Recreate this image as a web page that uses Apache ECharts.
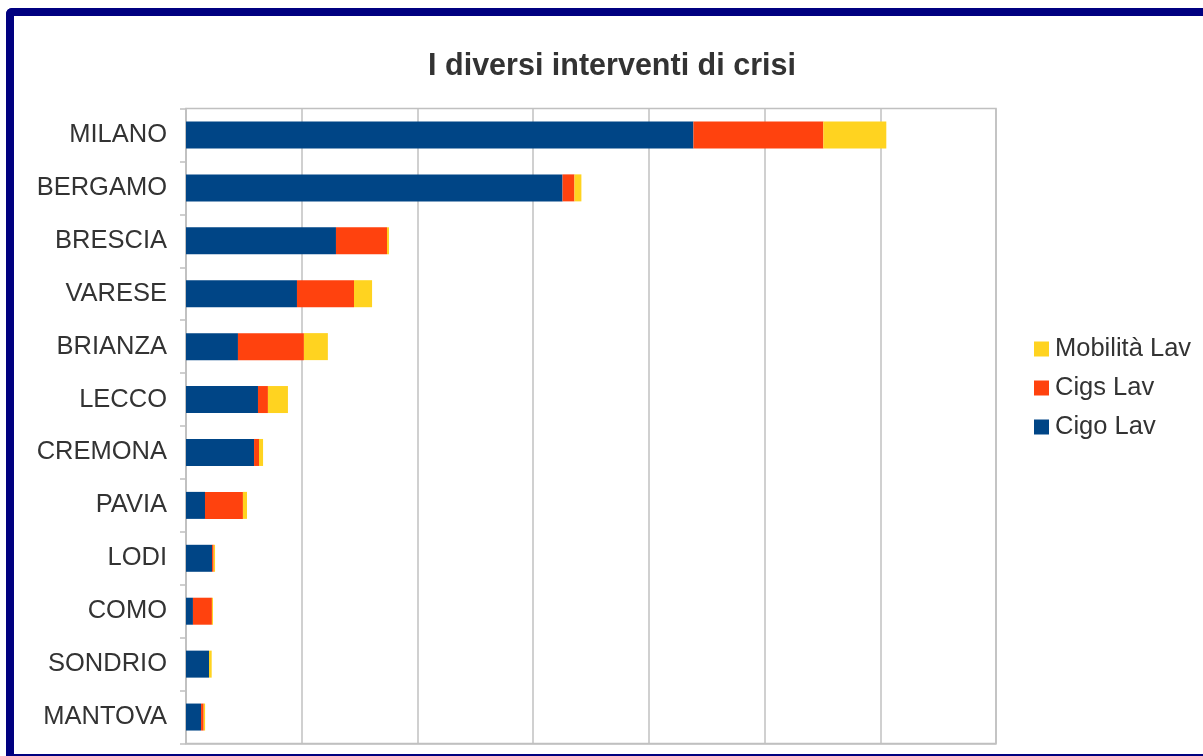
<!DOCTYPE html>
<html>
<head>
<meta charset="utf-8">
<script src="https://cdn.jsdelivr.net/npm/echarts@6/dist/echarts.min.js"></script>
<style>
  html, body { margin: 0; padding: 0; background: #ffffff; overflow: hidden; }
  #chart { position: absolute; left: 0; top: 0; width: 1203px; height: 756px; }
  #frame {
    position: absolute; left: 6px; top: 8px; width: 1240px; height: 748px;
    box-sizing: border-box; border-top: 8px solid #000080; border-left: 8px solid #000080;
    border-bottom: 2px solid #000080; border-top-left-radius: 6px; pointer-events: none;
  }
</style>
</head>
<body>
<div id="chart"></div>
<div id="frame"></div>
<script>
// Province (top to bottom) and worker counts per intervention type
const province = ['MILANO', 'BERGAMO', 'BRESCIA', 'VARESE', 'BRIANZA', 'LECCO',
                  'CREMONA', 'PAVIA', 'LODI', 'COMO', 'SONDRIO', 'MANTOVA'];
const cigoLav     = [21925, 16270, 6480, 4795, 2245, 3110, 2940, 820, 1125, 300, 995, 650];
const cigsLav     = [5615, 515, 2205, 2465, 2850, 430, 215, 1640, 70, 820, 0, 115];
const mobilitaLav = [2720, 300, 85, 780, 1035, 865, 175, 175, 60, 45, 115, 60];

const axisMax = 35000;
const axisStep = 5000;

const chart = echarts.init(document.getElementById('chart'), null, { renderer: 'canvas' });
const font = '"Liberation Sans", Arial, sans-serif';

function barSeries(name, data, color) {
  return {
    name: name, type: 'bar', stack: 'tot', data: data,
    barWidth: 27,
    itemStyle: { color: color },
    emphasis: { disabled: true }
  };
}

chart.setOption({
  animation: false,
  backgroundColor: 'transparent',
  graphic: [{
    type: 'text', x: 612, y: 67,
    style: {
      text: 'I diversi interventi di crisi',
      font: 'bold 30.5px ' + font, fill: '#333333',
      textAlign: 'center', textVerticalAlign: 'middle'
    }
  }],
  legend: {
    orient: 'vertical', left: 1029, top: 331,
    icon: 'rect', itemWidth: 15, itemHeight: 15, itemGap: 13,
    data: ['Mobilità Lav', 'Cigs Lav', 'Cigo Lav'],
    textStyle: { fontFamily: font, fontSize: 25.5, color: '#333333', lineHeight: 26, padding: [0, 0, 0, 1] },
    selectedMode: false
  },
  grid: { left: 186, right: 207, top: 108.5, bottom: 12.5, show: true, borderColor: '#c0c0c0', borderWidth: 1.5 },
  xAxis: {
    type: 'value', min: 0, max: axisMax, interval: axisStep,
    axisLabel: { show: false }, axisTick: { show: false },
    axisLine: { show: true, lineStyle: { color: '#c0c0c0', width: 1.5 } },
    splitLine: { show: true, lineStyle: { color: '#c0c0c0', width: 1.5 } }
  },
  yAxis: {
    type: 'category', data: province, inverse: true,
    axisLine: { show: true, lineStyle: { color: '#c0c0c0', width: 1.5 } },
    axisTick: { show: true, length: 6, lineStyle: { color: '#c0c0c0', width: 1.5 } },
    axisLabel: { margin: 19, fontFamily: font, fontSize: 25.5, color: '#333333' }
  },
  series: [
    barSeries('Cigo Lav', cigoLav, '#004586'),
    barSeries('Cigs Lav', cigsLav, '#ff420e'),
    barSeries('Mobilità Lav', mobilitaLav, '#ffd320')
  ]
});
</script>
</body>
</html>
